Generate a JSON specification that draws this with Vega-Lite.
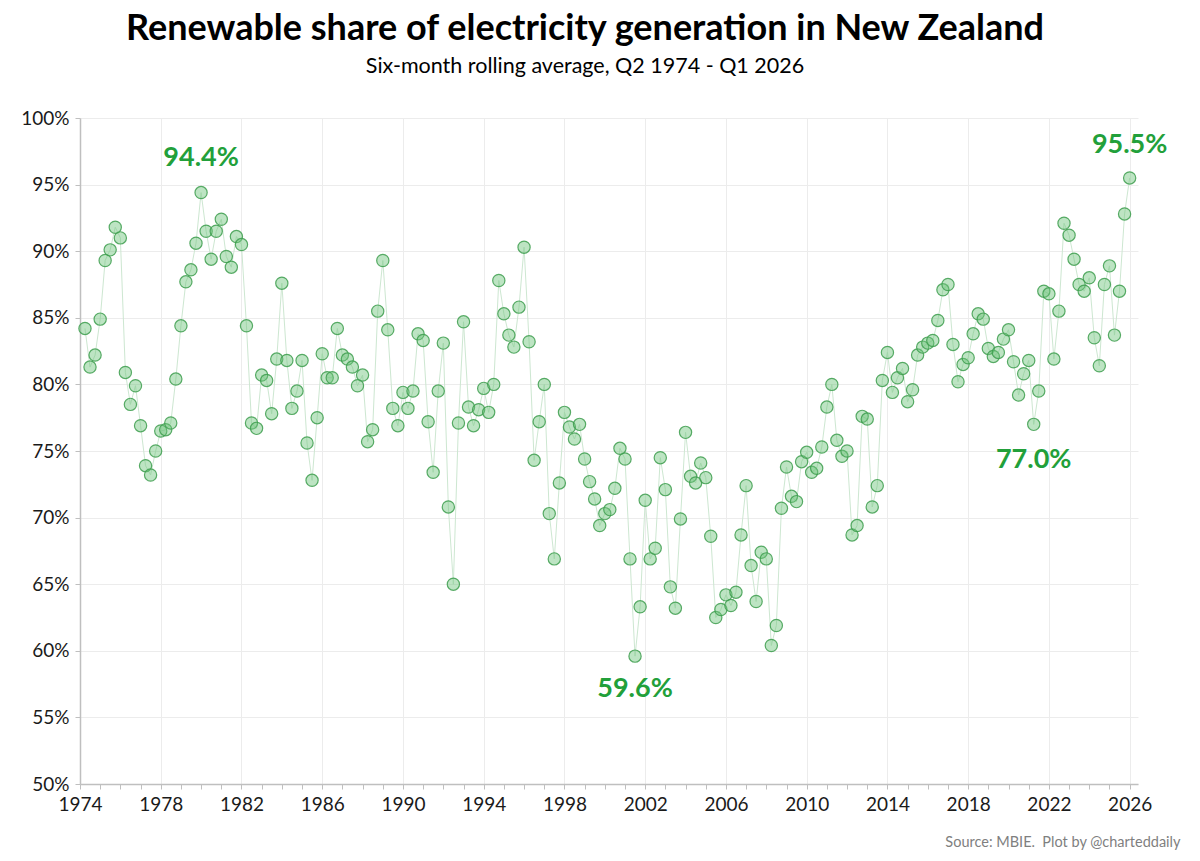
{
  "$schema": "https://vega.github.io/schema/vega-lite/v6.json",
  "width": 1058,
  "height": 666,
  "autosize": {"type": "none"},
  "padding": {"left": 80, "top": 118, "right": 62, "bottom": 77},
  "background": "white",
  "title": {
    "text": "Renewable share of electricity generation in New Zealand",
    "subtitle": "Six-month rolling average, Q2 1974 - Q1 2026",
    "anchor": "middle",
    "dx": -24,
    "offset": 31,
    "font": "Lato",
    "fontSize": 36,
    "fontWeight": "bold",
    "color": "#000000",
    "subtitleFont": "Lato",
    "subtitleFontSize": 21.5,
    "subtitleColor": "#000000",
    "subtitlePadding": 8
  },
  "datasets": {
    "share": [
      {"date": "1974-04-01", "share": 84.2}, {"date": "1974-07-01", "share": 81.3}, {"date": "1974-10-01", "share": 82.2},
      {"date": "1975-01-01", "share": 84.9}, {"date": "1975-04-01", "share": 89.3}, {"date": "1975-07-01", "share": 90.1}, {"date": "1975-10-01", "share": 91.8},
      {"date": "1976-01-01", "share": 91.0}, {"date": "1976-04-01", "share": 80.9}, {"date": "1976-07-01", "share": 78.5}, {"date": "1976-10-01", "share": 79.9},
      {"date": "1977-01-01", "share": 76.9}, {"date": "1977-04-01", "share": 73.9}, {"date": "1977-07-01", "share": 73.2}, {"date": "1977-10-01", "share": 75.0},
      {"date": "1978-01-01", "share": 76.5}, {"date": "1978-04-01", "share": 76.6}, {"date": "1978-07-01", "share": 77.1}, {"date": "1978-10-01", "share": 80.4},
      {"date": "1979-01-01", "share": 84.4}, {"date": "1979-04-01", "share": 87.7}, {"date": "1979-07-01", "share": 88.6}, {"date": "1979-10-01", "share": 90.6},
      {"date": "1980-01-01", "share": 94.4}, {"date": "1980-04-01", "share": 91.5}, {"date": "1980-07-01", "share": 89.4}, {"date": "1980-10-01", "share": 91.5},
      {"date": "1981-01-01", "share": 92.4}, {"date": "1981-04-01", "share": 89.6}, {"date": "1981-07-01", "share": 88.8}, {"date": "1981-10-01", "share": 91.1},
      {"date": "1982-01-01", "share": 90.5}, {"date": "1982-04-01", "share": 84.4}, {"date": "1982-07-01", "share": 77.1}, {"date": "1982-10-01", "share": 76.7},
      {"date": "1983-01-01", "share": 80.7}, {"date": "1983-04-01", "share": 80.3}, {"date": "1983-07-01", "share": 77.8}, {"date": "1983-10-01", "share": 81.9},
      {"date": "1984-01-01", "share": 87.6}, {"date": "1984-04-01", "share": 81.8}, {"date": "1984-07-01", "share": 78.2}, {"date": "1984-10-01", "share": 79.5},
      {"date": "1985-01-01", "share": 81.8}, {"date": "1985-04-01", "share": 75.6}, {"date": "1985-07-01", "share": 72.8}, {"date": "1985-10-01", "share": 77.5},
      {"date": "1986-01-01", "share": 82.3}, {"date": "1986-04-01", "share": 80.5}, {"date": "1986-07-01", "share": 80.5}, {"date": "1986-10-01", "share": 84.2},
      {"date": "1987-01-01", "share": 82.2}, {"date": "1987-04-01", "share": 81.9}, {"date": "1987-07-01", "share": 81.3}, {"date": "1987-10-01", "share": 79.9},
      {"date": "1988-01-01", "share": 80.7}, {"date": "1988-04-01", "share": 75.7}, {"date": "1988-07-01", "share": 76.6}, {"date": "1988-10-01", "share": 85.5},
      {"date": "1989-01-01", "share": 89.3}, {"date": "1989-04-01", "share": 84.1}, {"date": "1989-07-01", "share": 78.2}, {"date": "1989-10-01", "share": 76.9},
      {"date": "1990-01-01", "share": 79.4}, {"date": "1990-04-01", "share": 78.2}, {"date": "1990-07-01", "share": 79.5}, {"date": "1990-10-01", "share": 83.8},
      {"date": "1991-01-01", "share": 83.3}, {"date": "1991-04-01", "share": 77.2}, {"date": "1991-07-01", "share": 73.4}, {"date": "1991-10-01", "share": 79.5},
      {"date": "1992-01-01", "share": 83.1}, {"date": "1992-04-01", "share": 70.8}, {"date": "1992-07-01", "share": 65.0}, {"date": "1992-10-01", "share": 77.1},
      {"date": "1993-01-01", "share": 84.7}, {"date": "1993-04-01", "share": 78.3}, {"date": "1993-07-01", "share": 76.9}, {"date": "1993-10-01", "share": 78.1},
      {"date": "1994-01-01", "share": 79.7}, {"date": "1994-04-01", "share": 77.9}, {"date": "1994-07-01", "share": 80.0}, {"date": "1994-10-01", "share": 87.8},
      {"date": "1995-01-01", "share": 85.3}, {"date": "1995-04-01", "share": 83.7}, {"date": "1995-07-01", "share": 82.8}, {"date": "1995-10-01", "share": 85.8},
      {"date": "1996-01-01", "share": 90.3}, {"date": "1996-04-01", "share": 83.2}, {"date": "1996-07-01", "share": 74.3}, {"date": "1996-10-01", "share": 77.2},
      {"date": "1997-01-01", "share": 80.0}, {"date": "1997-04-01", "share": 70.3}, {"date": "1997-07-01", "share": 66.9}, {"date": "1997-10-01", "share": 72.6},
      {"date": "1998-01-01", "share": 77.9}, {"date": "1998-04-01", "share": 76.8}, {"date": "1998-07-01", "share": 75.9}, {"date": "1998-10-01", "share": 77.0},
      {"date": "1999-01-01", "share": 74.4}, {"date": "1999-04-01", "share": 72.7}, {"date": "1999-07-01", "share": 71.4}, {"date": "1999-10-01", "share": 69.4},
      {"date": "2000-01-01", "share": 70.3}, {"date": "2000-04-01", "share": 70.6}, {"date": "2000-07-01", "share": 72.2}, {"date": "2000-10-01", "share": 75.2},
      {"date": "2001-01-01", "share": 74.4}, {"date": "2001-04-01", "share": 66.9}, {"date": "2001-07-01", "share": 59.6}, {"date": "2001-10-01", "share": 63.3},
      {"date": "2002-01-01", "share": 71.3}, {"date": "2002-04-01", "share": 66.9}, {"date": "2002-07-01", "share": 67.7}, {"date": "2002-10-01", "share": 74.5},
      {"date": "2003-01-01", "share": 72.1}, {"date": "2003-04-01", "share": 64.8}, {"date": "2003-07-01", "share": 63.2}, {"date": "2003-10-01", "share": 69.9},
      {"date": "2004-01-01", "share": 76.4}, {"date": "2004-04-01", "share": 73.1}, {"date": "2004-07-01", "share": 72.6}, {"date": "2004-10-01", "share": 74.1},
      {"date": "2005-01-01", "share": 73.0}, {"date": "2005-04-01", "share": 68.6}, {"date": "2005-07-01", "share": 62.5}, {"date": "2005-10-01", "share": 63.1},
      {"date": "2006-01-01", "share": 64.2}, {"date": "2006-04-01", "share": 63.4}, {"date": "2006-07-01", "share": 64.4}, {"date": "2006-10-01", "share": 68.7},
      {"date": "2007-01-01", "share": 72.4}, {"date": "2007-04-01", "share": 66.4}, {"date": "2007-07-01", "share": 63.7}, {"date": "2007-10-01", "share": 67.4},
      {"date": "2008-01-01", "share": 66.9}, {"date": "2008-04-01", "share": 60.4}, {"date": "2008-07-01", "share": 61.9}, {"date": "2008-10-01", "share": 70.7},
      {"date": "2009-01-01", "share": 73.8}, {"date": "2009-04-01", "share": 71.6}, {"date": "2009-07-01", "share": 71.2}, {"date": "2009-10-01", "share": 74.2},
      {"date": "2010-01-01", "share": 74.9}, {"date": "2010-04-01", "share": 73.4}, {"date": "2010-07-01", "share": 73.7}, {"date": "2010-10-01", "share": 75.3},
      {"date": "2011-01-01", "share": 78.3}, {"date": "2011-04-01", "share": 80.0}, {"date": "2011-07-01", "share": 75.8}, {"date": "2011-10-01", "share": 74.6},
      {"date": "2012-01-01", "share": 75.0}, {"date": "2012-04-01", "share": 68.7}, {"date": "2012-07-01", "share": 69.4}, {"date": "2012-10-01", "share": 77.6},
      {"date": "2013-01-01", "share": 77.4}, {"date": "2013-04-01", "share": 70.8}, {"date": "2013-07-01", "share": 72.4}, {"date": "2013-10-01", "share": 80.3},
      {"date": "2014-01-01", "share": 82.4}, {"date": "2014-04-01", "share": 79.4}, {"date": "2014-07-01", "share": 80.5}, {"date": "2014-10-01", "share": 81.2},
      {"date": "2015-01-01", "share": 78.7}, {"date": "2015-04-01", "share": 79.6}, {"date": "2015-07-01", "share": 82.2}, {"date": "2015-10-01", "share": 82.8},
      {"date": "2016-01-01", "share": 83.1}, {"date": "2016-04-01", "share": 83.3}, {"date": "2016-07-01", "share": 84.8}, {"date": "2016-10-01", "share": 87.1},
      {"date": "2017-01-01", "share": 87.5}, {"date": "2017-04-01", "share": 83.0}, {"date": "2017-07-01", "share": 80.2}, {"date": "2017-10-01", "share": 81.5},
      {"date": "2018-01-01", "share": 82.0}, {"date": "2018-04-01", "share": 83.8}, {"date": "2018-07-01", "share": 85.3}, {"date": "2018-10-01", "share": 84.9},
      {"date": "2019-01-01", "share": 82.7}, {"date": "2019-04-01", "share": 82.1}, {"date": "2019-07-01", "share": 82.4}, {"date": "2019-10-01", "share": 83.4},
      {"date": "2020-01-01", "share": 84.1}, {"date": "2020-04-01", "share": 81.7}, {"date": "2020-07-01", "share": 79.2}, {"date": "2020-10-01", "share": 80.8},
      {"date": "2021-01-01", "share": 81.8}, {"date": "2021-04-01", "share": 77.0}, {"date": "2021-07-01", "share": 79.5}, {"date": "2021-10-01", "share": 87.0},
      {"date": "2022-01-01", "share": 86.8}, {"date": "2022-04-01", "share": 81.9}, {"date": "2022-07-01", "share": 85.5}, {"date": "2022-10-01", "share": 92.1},
      {"date": "2023-01-01", "share": 91.2}, {"date": "2023-04-01", "share": 89.4}, {"date": "2023-07-01", "share": 87.5}, {"date": "2023-10-01", "share": 87.0},
      {"date": "2024-01-01", "share": 88.0}, {"date": "2024-04-01", "share": 83.5}, {"date": "2024-07-01", "share": 81.4}, {"date": "2024-10-01", "share": 87.5},
      {"date": "2025-01-01", "share": 88.9}, {"date": "2025-04-01", "share": 83.7}, {"date": "2025-07-01", "share": 87.0}, {"date": "2025-10-01", "share": 92.8},
      {"date": "2026-01-01", "share": 95.5}
    ],
    "notes": [
      {"date": "1980-01-01", "pos": 97.0, "label": "94.4%"},
      {"date": "2001-07-01", "pos": 57.1, "label": "59.6%"},
      {"date": "2021-04-01", "pos": 74.3, "label": "77.0%"},
      {"date": "2026-01-01", "pos": 98.0, "label": "95.5%"}
    ]
  },
  "layer": [
    {
      "data": {"name": "share"},
      "mark": {"type": "line", "color": "#cde7d1", "strokeWidth": 1},
      "encoding": {
        "x": {
          "field": "date",
          "type": "temporal",
          "scale": {"type": "utc", "domain": ["1974-01-01", "2026-06-01"], "nice": false},
          "axis": {
            "tickCount": {"interval": "year", "step": 1},
            "labelExpr": "utcyear(datum.value) % 4 == 2 ? utcyear(datum.value) + '' : ''",
            "labelOverlap": false,
            "labelBound": false,
            "labelFlush": false,
            "labelFont": "Lato",
            "labelFontSize": 19,
            "labelColor": "#1a1a1a",
            "labelPadding": 6,
            "domainColor": "#bfbfbf",
            "domainWidth": 1.5,
            "tickColor": "#bfbfbf",
            "tickSize": 5,
            "grid": true,
            "gridColor": "#ececec",
            "gridOpacity": {"condition": {"test": "utcyear(datum.value) % 4 != 2", "value": 0}, "value": 1},
            "title": "Source: MBIE.\u00a0 Plot by @charteddaily",
            "titleFont": "Lato",
            "titleFontSize": 14.5,
            "titleFontWeight": "normal",
            "titleColor": "#7f7f7f",
            "titleAnchor": "end",
            "titleAlign": "right",
            "titleX": 1100,
            "titlePadding": 21
          }
        },
        "y": {
          "field": "share",
          "type": "quantitative",
          "scale": {"domain": [50, 100], "nice": false, "zero": false},
          "axis": {
            "values": [50, 55, 60, 65, 70, 75, 80, 85, 90, 95, 100],
            "labelExpr": "datum.value + '%'",
            "labelFont": "Lato",
            "labelFontSize": 19,
            "labelColor": "#1a1a1a",
            "labelPadding": 6,
            "domainColor": "#bfbfbf",
            "domainWidth": 1.5,
            "tickColor": "#bfbfbf",
            "tickSize": 5,
            "grid": true,
            "gridColor": "#ececec",
            "title": null
          }
        }
      }
    },
    {
      "data": {"name": "share"},
      "mark": {
        "type": "point",
        "shape": "circle",
        "size": 150,
        "filled": true,
        "fill": "#6cc47a",
        "fillOpacity": 0.45,
        "stroke": "#3d9e4e",
        "strokeWidth": 1.2,
        "strokeOpacity": 0.85
      },
      "encoding": {
        "x": {"field": "date", "type": "temporal"},
        "y": {"field": "share", "type": "quantitative"}
      }
    },
    {
      "data": {"name": "notes"},
      "mark": {
        "type": "text",
        "font": "Lato",
        "fontSize": 27,
        "fontWeight": "bold",
        "color": "#22a03a",
        "align": "center",
        "baseline": "middle"
      },
      "encoding": {
        "x": {"field": "date", "type": "temporal"},
        "y": {"field": "pos", "type": "quantitative"},
        "text": {"field": "label"}
      }
    }
  ],
  "config": {
    "view": {"stroke": null}
  }
}
